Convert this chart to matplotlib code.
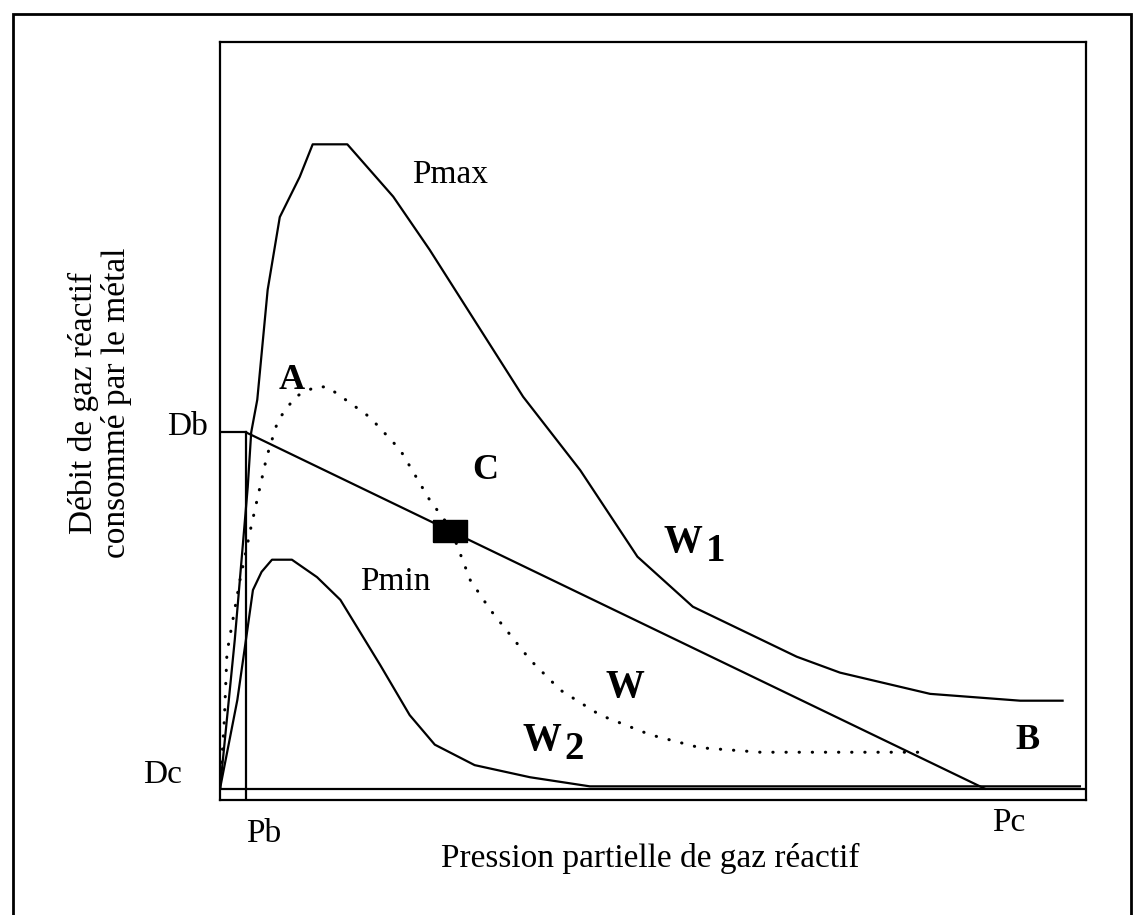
import numpy as np
import matplotlib.pyplot as plt
from matplotlib.patches import Rectangle

plt.rcParams['font.family'] = ['Liberation Serif', 'DejaVu Serif']

# reference levels
Db, Dc = 48.5, 1.5
Pb, Pc = 3.0, 88.3

# Pmax curve (W1)
pmax_x = [0, 1.7, 3.2, 3.6, 4.3, 5.5, 6.9, 9.2, 10.7, 14.7, 20.0, 24.2, 35.0,
          41.6, 48.2, 54.6, 66.6, 71.6, 82.0, 92.4, 97.3]
pmax_y = [1.5, 21.1, 41.3, 48.5, 52.8, 67.3, 76.9, 82.2, 86.5, 86.5, 79.6, 72.6,
          53.2, 43.5, 32.1, 25.5, 18.9, 16.8, 14.0, 13.1, 13.1]

# Pmin curve (W2)
pmin_x = [0, 2.0, 3.1, 3.8, 4.8, 6.0, 8.3, 11.2, 13.9, 18.5, 21.9, 24.8, 29.4,
          35.8, 42.7, 99.3]
pmin_y = [1.5, 13.2, 22.0, 27.7, 30.1, 31.7, 31.7, 29.4, 26.4, 17.8, 11.2, 7.3,
          4.6, 3.0, 1.8, 1.8]

# intermediate curve W (dotted)
w_x = [0, 0.5, 0.8, 2.3, 3.5, 4.4, 5.4, 6.7, 8.7, 11.0, 12.4, 15.0, 17.3, 20.8,
       24.2, 26.6, 28.9, 31.2, 35.8, 39.3, 43.9, 49.7, 55.4, 62.4, 80.8]
w_y = [1.5, 10.6, 19.4, 29.0, 35.6, 40.2, 45.3, 50.1, 53.2, 54.5, 54.5, 52.4,
       50.5, 46.2, 39.6, 35.9, 29.0, 25.1, 18.5, 14.5, 11.2, 8.6, 6.9, 6.3, 6.3]

# operating point C
c_x = 26.6
c_y = Db + (Dc - Db) * (c_x - Pb) / (Pc - Pb)

fig = plt.figure(figsize=(11.33, 9.15), dpi=100)
ax = fig.add_axes([0.1942, 0.1257, 0.7643, 0.8284])
ax.set_xlim(0, 100)
ax.set_ylim(0, 100)
ax.set_xticks([])
ax.set_yticks([])
for s in ax.spines.values():
    s.set_linewidth(1.6)

lw = 1.6
ax.plot([0, 100], [Dc, Dc], color='black', lw=lw)
ax.plot([0, Pb], [Db, Db], color='black', lw=lw)
ax.plot([Pb, Pb], [0, Db], color='black', lw=lw)
ax.plot([Pb, Pc], [Db, Dc], color='black', lw=lw)
ax.plot(pmax_x, pmax_y, color='black', lw=lw)
ax.plot(pmin_x, pmin_y, color='black', lw=lw)
ax.plot(w_x, w_y, color='black', lw=2.2, linestyle=(0, (0.1, 4.2)),
        dash_capstyle='round')

rect = [(-1.5, -1), (1.5, -1), (1.5, 1), (-1.5, 1), (-1.5, -1)]
ax.plot([c_x], [c_y], marker=rect, markersize=24, color='black', zorder=5)

# curve and point labels
ax.text(26.6, 82.5, 'Pmax', fontsize=24, ha='center', va='center')
ax.text(20.2, 28.8, 'Pmin', fontsize=24, ha='center', va='center')
ax.text(8.3, 55.4, 'A', fontsize=26, fontweight='bold', ha='center', va='center')
ax.text(30.6, 43.5, 'C', fontsize=26, fontweight='bold', ha='center', va='center')
ax.text(93.3, 7.9, 'B', fontsize=26, fontweight='bold', ha='center', va='center')
ax.text(46.8, 14.8, 'W', fontsize=28, fontweight='bold', ha='center', va='center')
ax.text(53.5, 34.0, 'W', fontsize=28, fontweight='bold', ha='center', va='center')
ax.text(57.2, 32.8, '1', fontsize=28, fontweight='bold', ha='center', va='center')
ax.text(37.2, 7.8, 'W', fontsize=28, fontweight='bold', ha='center', va='center')
ax.text(40.9, 6.6, '2', fontsize=28, fontweight='bold', ha='center', va='center')

# level labels
ax.text(-3.7, 49.3, 'Db', fontsize=24, ha='center', va='center', clip_on=False)
ax.text(-6.7, 3.3, 'Dc', fontsize=24, ha='center', va='center', clip_on=False)
ax.text(5.1, -4.4, 'Pb', fontsize=24, ha='center', va='center', clip_on=False)
ax.text(91.1, -3.0, 'Pc', fontsize=24, ha='center', va='center', clip_on=False)

fig.text(0.5737, 0.0623, 'Pression partielle de gaz réactif', fontsize=24,
         ha='center', va='center')
fig.text(0.0883, 0.5596, 'Débit de gaz réactif\nconsommé par le métal',
         fontsize=24, ha='center', va='center', rotation=90,
         multialignment='center', linespacing=1.05)

# outer frame
fig.patches.append(Rectangle((13 / 1133, -0.05), 1118 / 1133, 0.05 + 901 / 915,
                             transform=fig.transFigure, fill=False,
                             edgecolor='black', lw=2.0))

fig.savefig('out.png', dpi=100)
